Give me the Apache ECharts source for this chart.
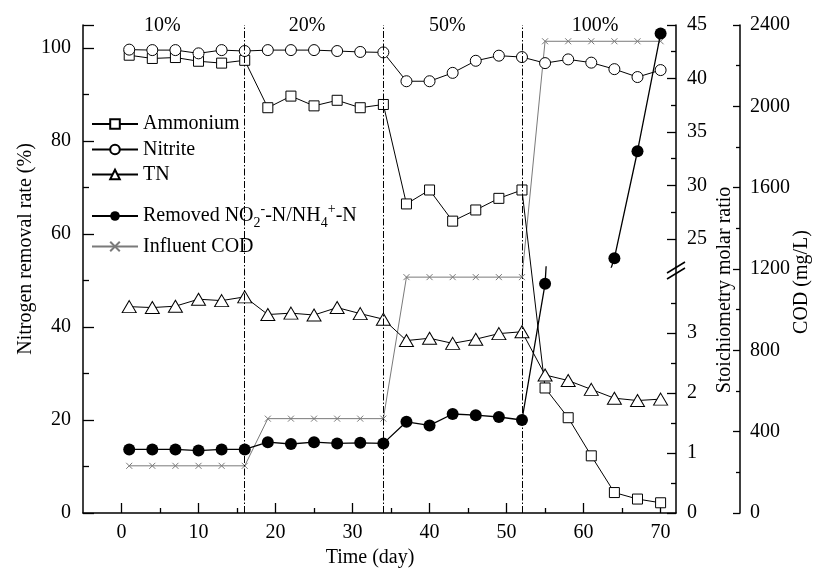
<!DOCTYPE html>
<html>
<head>
<meta charset="utf-8">
<script src="https://cdn.jsdelivr.net/npm/echarts@6/dist/echarts.min.js"></script>
<style>html,body{margin:0;padding:0;background:#fff;}#c{width:815px;height:579px;}</style>
</head>
<body>
<div id="c"></div>
<script>
// ---- data ----
const days = [1,4,7,10,13,16,19,22,25,28,31,34,37,40,43,46,49,52,55,58,61,64,67,70];
const ammonium = [98.5,97.8,98.0,97.2,96.8,97.4,87.2,89.7,87.6,88.8,87.2,87.9,66.5,69.5,62.8,65.2,67.7,69.5,26.9,20.5,12.3,4.4,3.0,2.2];
const nitrite = [99.7,99.6,99.6,98.9,99.6,99.4,99.6,99.6,99.6,99.4,99.2,99.1,92.9,92.9,94.7,97.3,98.4,98.1,96.8,97.6,96.9,95.5,93.8,95.3];
const tn = [44.4,44.2,44.5,46.0,45.7,46.5,42.7,43.0,42.6,44.2,42.9,41.7,37.1,37.6,36.5,37.4,38.6,39.0,29.7,28.5,26.6,24.7,24.2,24.5];
const removedDays = [1,4,7,10,13,16,19,22,25,28,31,34,37,40,43,46,49,52,55,64,67,70];
const removedRatio = [1.06,1.06,1.06,1.04,1.06,1.06,1.18,1.15,1.18,1.16,1.17,1.16,1.52,1.46,1.65,1.63,1.60,1.55,3.82,23.2,33.2,44.2];
const influentCOD = [232,232,232,232,232,232,464,464,464,464,464,464,1160,1160,1160,1160,1160,1160,2320,2320,2320,2320,2320,2320];
const phaseDays = [16,34,52];
const phaseLabels = ['10%','20%','50%','100%'];
const phaseLabelDays = [5.3,24.1,42.3,61.5];
const xTicks = [0,10,20,30,40,50,60,70];
const xMinor = [5,15,25,35,45,55,65];
const leftTicks = [0,20,40,60,80,100];
const leftMinor = [10,30,50,70,90];
const codTicks = [0,400,800,1200,1600,2000,2400];
const codMinor = [200,600,1000,1400,1800,2200];
const stLowTicks = [0,1,2,3];
const stLowMinor = [0.5,1.5,2.5,3.5];
const stHighTicks = [25,30,35,40,45];
const stHighMinor = [27.5,32.5,37.5,42.5];

const NAMES = ['Ammonium','Nitrite','TN','Removed NO2-N/NH4+-N','Influent COD'];
const F = 'Liberation Serif';
const zip = (xs, ys) => xs.map((x,i)=>[x, ys[i]]);

const chart = echarts.init(document.getElementById('c'), null, {renderer:'canvas'});

const mainRect = {left:83, right:139, top:25, bottom:66, outerBoundsMode:'none', containLabel:false};
const lowRect = {left:83, right:139, top:267, bottom:66, outerBoundsMode:'none', containLabel:false};
const highRect = {left:83, right:139, top:25, bottom:312, outerBoundsMode:'none', containLabel:false};

const lbl = (vals, extra) => Object.assign({show:true, customValues: vals, color:'#000', fontFamily:F, fontSize:20,
  formatter: v => String(v)}, extra||{});
const tick = (vals, len) => ({show:true, inside:true, customValues: vals, length:len, lineStyle:{color:'#000', width:1.3}});
const blackLine = {show:true, onZero:false, lineStyle:{color:'#000', width:1.5}};
const noLine = {show:false, onZero:false};

const xBase = {type:'value', min:-5, max:72, splitLine:{show:false}};

const option = {
  animation:false,
  backgroundColor:'#fff',
  grid:[
    Object.assign({}, mainRect), Object.assign({}, mainRect),
    Object.assign({}, lowRect), Object.assign({}, lowRect),
    Object.assign({}, highRect), Object.assign({}, highRect)
  ],
  xAxis:[
    Object.assign({}, xBase, {gridIndex:0, position:'bottom', axisLine:blackLine, axisTick:tick(xTicks,10),
      axisLabel:lbl(xTicks,{margin:10}),
      name:'Time (day)', nameLocation:'middle', nameGap:35, nameMoveOverlap:false,
      nameTextStyle:{fontFamily:F, fontSize:20, color:'#000', padding:[0,19,0,0]}}),
    Object.assign({}, xBase, {gridIndex:1, position:'bottom', axisLine:noLine, axisTick:tick(xMinor,5), axisLabel:{show:false}}),
    Object.assign({}, xBase, {gridIndex:2, show:false, axisLine:noLine}),
    Object.assign({}, xBase, {gridIndex:3, show:false, axisLine:noLine}),
    Object.assign({}, xBase, {gridIndex:4, show:false, axisLine:noLine}),
    Object.assign({}, xBase, {gridIndex:5, show:false, axisLine:noLine})
  ],
  yAxis:[
    {type:'value', gridIndex:0, position:'left', min:0, max:105, splitLine:{show:false},
      axisLine:blackLine, axisTick:tick(leftTicks.concat([105]),11), axisLabel:lbl(leftTicks,{margin:12}),
      name:'Nitrogen removal rate (%)', nameLocation:'middle', nameGap:47, nameRotate:90, nameMoveOverlap:false,
      nameTextStyle:{fontFamily:F, fontSize:20, color:'#000', padding:[0,0,0,40]}},
    {type:'value', gridIndex:0, position:'right', offset:64, min:0, max:2400, splitLine:{show:false},
      axisLine:blackLine, axisTick:tick(codTicks,7), axisLabel:lbl(codTicks,{margin:10}),
      name:'COD (mg/L)', nameLocation:'middle', nameGap:52, nameRotate:90, nameMoveOverlap:false,
      nameTextStyle:{fontFamily:F, fontSize:20, color:'#000', padding:[0,26,0,0]}},
    {type:'value', gridIndex:1, position:'left', min:0, max:105, splitLine:{show:false},
      axisLine:noLine, axisTick:tick(leftMinor,6), axisLabel:{show:false}},
    {type:'value', gridIndex:1, position:'right', offset:64, min:0, max:2400, splitLine:{show:false},
      axisLine:noLine, axisTick:tick(codMinor,4), axisLabel:{show:false}},
    {type:'value', gridIndex:2, position:'right', min:0, max:4.1, splitLine:{show:false},
      axisLine:blackLine, axisTick:tick(stLowTicks,9), axisLabel:lbl(stLowTicks,{margin:11})},
    {type:'value', gridIndex:3, position:'right', min:0, max:4.1, splitLine:{show:false},
      axisLine:noLine, axisTick:tick(stLowMinor,5), axisLabel:{show:false}},
    {type:'value', gridIndex:4, position:'right', min:22.38, max:45, splitLine:{show:false},
      axisLine:blackLine, axisTick:tick(stHighTicks,9), axisLabel:lbl(stHighTicks,{margin:11})},
    {type:'value', gridIndex:5, position:'right', min:22.38, max:45, splitLine:{show:false},
      axisLine:noLine, axisTick:tick(stHighMinor,5), axisLabel:{show:false}}
  ],
  legend: NAMES.map((n,i)=>{
    const tops = [114,139.5,164.5,202,236.5];
    const L = {left:91, top:tops[i], padding:0, itemGap:0, itemWidth:46, itemHeight:12, selectedMode:false,
      data:[n], textStyle:{fontFamily:F, fontSize:20, color:'#000', lineHeight:20}};
    if (i===3) {
      L.formatter = () => '{t|Removed NO}{sub|2}{sup|-}{t|-N/NH}{sub|4}{sup|+}{t|-N}';
      L.textStyle.rich = {
        t:{fontFamily:F, fontSize:20, color:'#000', lineHeight:20},
        sub:{fontFamily:F, fontSize:14, color:'#000', padding:[14,0,0,0], lineHeight:20},
        sup:{fontFamily:F, fontSize:14, color:'#000', padding:[0,0,14,0], lineHeight:20}
      };
    }
    return L;
  }),
  series:[
    {name:NAMES[0], type:'line', xAxisIndex:0, yAxisIndex:0, data:zip(days, ammonium),
      symbol:'rect', symbolSize:10, itemStyle:{color:'#fff', borderColor:'#000', borderWidth:1},
      lineStyle:{color:'#000', width:1}, z:3,
      markLine:{silent:true, symbol:['none','none'], label:{show:false},
        lineStyle:{color:'#000', width:1, type:[7,2,1.5,2]},
        data: phaseDays.map(d=>({xAxis:d}))},
      markPoint:{silent:true, symbol:'circle', symbolSize:2, itemStyle:{color:'rgba(0,0,0,0)'},
        label:{show:true, position:'top', distance:-8, formatter:p=>p.name, fontFamily:F, fontSize:20, color:'#000'},
        data: phaseLabels.map((t,i)=>({name:t, coord:[phaseLabelDays[i], 104.15]}))}
    },
    {name:NAMES[1], type:'line', xAxisIndex:0, yAxisIndex:0, data:zip(days, nitrite),
      symbol:'circle', symbolSize:11, itemStyle:{color:'#fff', borderColor:'#000', borderWidth:1},
      lineStyle:{color:'#000', width:1}, z:3},
    {name:NAMES[2], type:'line', xAxisIndex:0, yAxisIndex:0, data:zip(days, tn),
      symbol:'triangle', symbolSize:[14,12], itemStyle:{color:'#fff', borderColor:'#000', borderWidth:1},
      lineStyle:{color:'#000', width:1}, z:3},
    {name:NAMES[3], type:'line', xAxisIndex:2, yAxisIndex:4, data:zip(removedDays, removedRatio), clip:true,
      symbol:'circle', symbolSize:12, itemStyle:{color:'#000'}, lineStyle:{color:'#000', width:1.3}, z:4},
    {name:NAMES[3], type:'line', xAxisIndex:4, yAxisIndex:6, data:zip(removedDays, removedRatio), clip:true,
      symbol:'circle', symbolSize:12, itemStyle:{color:'#000'}, lineStyle:{color:'#000', width:1.3}, z:4},
    {name:NAMES[4], type:'line', xAxisIndex:0, yAxisIndex:1, data:zip(days, influentCOD),
      symbol:'path://M0,0L10,10M10,0L0,10', symbolSize:6,
      itemStyle:{color:'rgba(0,0,0,0)', borderColor:'#7a7a7a', borderWidth:1},
      lineStyle:{color:'#7a7a7a', width:1}, z:2}
  ],
  graphic:[
    {type:'text', x:725, y:290, rotation:Math.PI/2, silent:true,
      style:{text:'Stoichiometry molar ratio', fontFamily:F, fontSize:20, fill:'#000', align:'center', verticalAlign:'middle'}},
    {type:'line', silent:true, shape:{x1:667, y1:273, x2:685, y2:262}, style:{stroke:'#000', lineWidth:1.5}},
    {type:'line', silent:true, shape:{x1:667, y1:279, x2:685, y2:268}, style:{stroke:'#000', lineWidth:1.5}}
  ]
};
chart.setOption(option);
</script>
</body>
</html>
